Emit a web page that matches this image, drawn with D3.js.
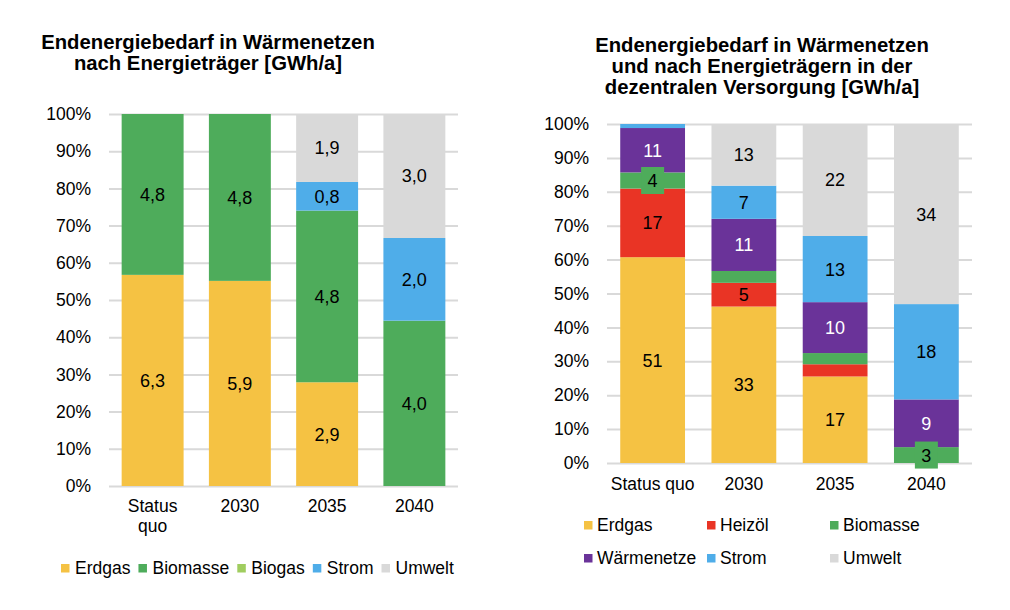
<!DOCTYPE html>
<html>
<head>
<meta charset="utf-8">
<script src="https://cdn.jsdelivr.net/npm/d3@7"></script>
<style>
  body { margin: 0; background: #fff; }
  text { font-family: "Liberation Sans", Arial, sans-serif; }
</style>
</head>
<body>
<script>
// categories shared by both charts
var categories = ['Status quo', '2030', '2035', '2040'];
var percentTicks = [0, 0.1, 0.2, 0.3, 0.4, 0.5, 0.6, 0.7, 0.8, 0.9, 1];

// left chart: Wärmenetze nach Energieträger [GWh/a]
var leftSeries = ['Erdgas', 'Biomasse', 'Biogas', 'Strom', 'Umwelt'];
var leftErdgas   = [6.3, 5.9, 2.9, 0];
var leftBiomasse = [4.8, 4.8, 4.8, 4.0];
var leftBiogas   = [0, 0, 0, 0];
var leftStrom    = [0, 0, 0.8, 2.0];
var leftUmwelt   = [0, 0, 1.9, 3.0];

// right chart: Wärmenetze + dezentrale Versorgung [GWh/a]
var rightSeries = ['Erdgas', 'Heizöl', 'Biomasse', 'Wärmenetze', 'Strom', 'Umwelt'];
var rightErdgas     = [51, 33, 17, 0];
var rightHeizoel    = [17, 5, 2.4, 0];
var rightBiomasse   = [4, 2.5, 2.2, 3];
var rightWaermenetz = [11, 11, 10, 9];
var rightStrom      = [1, 7, 13, 18];
var rightUmwelt     = [0, 13, 22, 34];

var colors = {
  'Erdgas': '#F5C243',
  'Heizöl': '#E93425',
  'Biomasse': '#4EAC5B',
  'Biogas': '#A0CD5F',
  'Wärmenetze': '#6A3399',
  'Strom': '#4FADE9',
  'Umwelt': '#D9D9D9'
};
var whiteLabels = ['Wärmenetze'];

var svg = d3.select('body').append('svg').attr('width', 1010).attr('height', 610);

function buildRows(keys, arrays) {
  return categories.map(function (c, i) {
    var row = { cat: c };
    keys.forEach(function (k, j) { row[k] = arrays[j][i]; });
    return row;
  });
}

function drawChart(opt) {
  var g = svg.append('g');
  var x = d3.scaleBand().domain(categories).range([opt.x0, opt.x1])
    .paddingInner(0.29).paddingOuter(0.145);
  var y = d3.scaleLinear().domain([0, 1]).range([opt.y1, opt.y0]);

  // title
  var title = g.append('text')
    .attr('x', opt.titleX).attr('y', opt.titleY)
    .attr('text-anchor', 'middle')
    .attr('font-size', 20.3).attr('font-weight', 'bold').attr('fill', '#000');
  opt.title.forEach(function (line, i) {
    title.append('tspan').attr('x', opt.titleX).attr('dy', i === 0 ? 0 : 21).text(line);
  });

  // y axis with grid
  var yAxis = g.append('g')
    .attr('transform', 'translate(' + opt.x0 + ',0)')
    .call(d3.axisLeft(y).tickValues(percentTicks).tickFormat(d3.format('.0%'))
      .tickSize(-(opt.x1 - opt.x0)).tickPadding(18));
  yAxis.select('.domain').remove();
  yAxis.selectAll('.tick line').attr('stroke', '#D9D9D9').attr('stroke-width', 2);
  yAxis.selectAll('.tick text').attr('font-size', 17.5).attr('fill', '#000')
    .attr('font-family', '"Liberation Sans", Arial, sans-serif');

  var stack = d3.stack().keys(opt.keys).offset(d3.stackOffsetExpand);
  var layers = stack(opt.rows);

  var layerG = g.selectAll('.layer').data(layers).enter().append('g')
    .attr('fill', function (d) { return colors[d.key]; });
  layerG.selectAll('rect').data(function (d) { return d; }).enter().append('rect')
    .attr('x', function (d) { return x(d.data.cat); })
    .attr('width', x.bandwidth())
    .attr('y', function (d) { return y(d[1]); })
    .attr('height', function (d) { return y(d[0]) - y(d[1]); });

  // value labels
  layers.forEach(function (layer) {
    layer.forEach(function (d) {
      var v = d.data[layer.key];
      if (!v || v < opt.minLabel) return;
      var cx = x(d.data.cat) + x.bandwidth() / 2;
      var cy = (y(d[0]) + y(d[1])) / 2;
      var h = y(d[0]) - y(d[1]);
      if (h < 20) {
        g.append('rect').attr('x', cx - 11.5).attr('y', cy - 13.5)
          .attr('width', 23).attr('height', 27).attr('fill', colors[layer.key]);
      }
      g.append('text').attr('x', cx).attr('y', cy).attr('dy', '0.36em')
        .attr('text-anchor', 'middle').attr('font-size', 18)
        .attr('fill', whiteLabels.indexOf(layer.key) >= 0 ? '#fff' : '#000')
        .text(opt.fmt(v));
    });
  });

  // category labels
  categories.forEach(function (c) {
    var lines = opt.wrap && c.indexOf(' ') > 0 ? c.split(' ') : [c];
    var t = g.append('text').attr('text-anchor', 'middle').attr('font-size', 17.5).attr('fill', '#000')
      .attr('x', x(c) + x.bandwidth() / 2).attr('y', opt.catY);
    lines.forEach(function (l, i) {
      t.append('tspan').attr('x', x(c) + x.bandwidth() / 2).attr('dy', i === 0 ? 0 : 20).text(l);
    });
  });
}

drawChart({
  x0: 109, x1: 458, y0: 114, y1: 486,
  title: ['Endenergiebedarf in Wärmenetzen', 'nach Energieträger [GWh/a]'],
  titleX: 208, titleY: 49,
  keys: leftSeries,
  rows: buildRows(leftSeries, [leftErdgas, leftBiomasse, leftBiogas, leftStrom, leftUmwelt]),
  minLabel: 0.1,
  fmt: function (v) { return d3.format('.1f')(v).replace('.', ','); },
  catY: 512, wrap: true
});

drawChart({
  x0: 607, x1: 972, y0: 124, y1: 463,
  title: ['Endenergiebedarf in Wärmenetzen', 'und nach Energieträgern in der', 'dezentralen Versorgung [GWh/a]'],
  titleX: 762, titleY: 52,
  keys: rightSeries,
  rows: buildRows(rightSeries, [rightErdgas, rightHeizoel, rightBiomasse, rightWaermenetz, rightStrom, rightUmwelt]),
  minLabel: 3,
  fmt: d3.format('.0f'),
  catY: 490, wrap: false
});

// left legend, one row
var lx = 61;
leftSeries.forEach(function (s) {
  svg.append('rect').attr('x', lx).attr('y', 564).attr('width', 8.5).attr('height', 8.5).attr('fill', colors[s]);
  var t = svg.append('text').attr('x', lx + 14).attr('y', 574).attr('font-size', 17.5).attr('fill', '#000').text(s);
  lx += 14 + t.node().getComputedTextLength() + 8;
});

// right legend, 3 columns x 2 rows
var colX = [584, 707, 830];
var rowY = [521, 554];
rightSeries.forEach(function (s, i) {
  var cx = colX[i % 3], cy = rowY[Math.floor(i / 3)];
  svg.append('rect').attr('x', cx).attr('y', cy).attr('width', 8.5).attr('height', 8.5).attr('fill', colors[s]);
  svg.append('text').attr('x', cx + 13).attr('y', cy + 9.5).attr('font-size', 17.5).attr('fill', '#000').text(s);
});
</script>
</body>
</html>
